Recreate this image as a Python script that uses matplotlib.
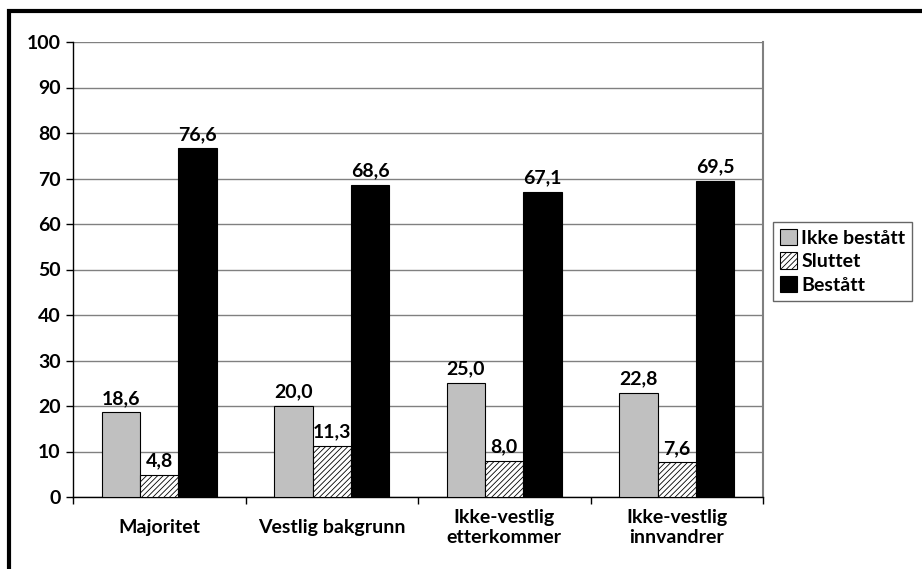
"""Grouped bar chart: Ikke bestått / Sluttet / Bestått by background."""

import matplotlib
matplotlib.use("Agg")
import matplotlib.pyplot as plt
import numpy as np
from matplotlib.patches import Patch, Rectangle

plt.rcParams["font.family"] = ["Lato", "DejaVu Sans"]
plt.rcParams["font.weight"] = "bold"
plt.rcParams["hatch.linewidth"] = 0.6

CATEGORIES = ["Majoritet", "Vestlig bakgrunn", "Ikke-vestlig\netterkommer",
              "Ikke-vestlig\ninnvandrer"]
SERIES = ["Ikke bestått", "Sluttet", "Bestått"]
IKKE_BESTATT = [18.6, 20.0, 25.0, 22.8]
SLUTTET = [4.8, 11.3, 8.0, 7.6]
BESTATT = [76.6, 68.6, 67.1, 69.5]
Y_TICKS = list(range(0, 101, 10))

FS = 14
STYLES = [
    dict(facecolor="#C0C0C0", edgecolor="black", hatch=None),
    dict(facecolor="white", edgecolor="black", hatch="//////"),
    dict(facecolor="black", edgecolor="black", hatch=None),
]


def fmt(v):
    return f"{v:.1f}".replace(".", ",")


def main():
    fig = plt.figure(figsize=(9.22, 5.69), dpi=100)
    W, H = 922, 569

    # outer frame (cut off at right/bottom like the reference)
    fig.patches.append(Rectangle((9 / W, -0.05), 1.2, (H - 11) / H + 0.05,
                                 transform=fig.transFigure, fill=False,
                                 edgecolor="black", linewidth=3))

    ax = fig.add_axes([73 / W, (H - 497) / H, 690 / W, 455 / H])
    ax.set_xlim(0, len(CATEGORIES))
    ax.set_ylim(0, 100)

    x = np.arange(len(CATEGORIES)) + 0.5
    bw = 1 / 4.5
    for i, (vals, st) in enumerate(zip([IKKE_BESTATT, SLUTTET, BESTATT], STYLES)):
        xs = x + (i - 1) * bw
        ax.bar(xs, vals, width=bw, facecolor=st["facecolor"],
               edgecolor=st["edgecolor"], hatch=st["hatch"], linewidth=0.8,
               zorder=3)
        for xi, v in zip(xs, vals):
            ax.annotate(fmt(v), (xi, v), xytext=(0, 4),
                        textcoords="offset points", ha="center", va="bottom",
                        fontsize=FS, fontweight="bold", zorder=4)

    ax.set_yticks(Y_TICKS)
    ax.set_yticklabels([str(t) for t in Y_TICKS], fontsize=FS)
    ax.yaxis.grid(True, color="#808080", linewidth=1.0, zorder=0)
    ax.tick_params(axis="y", length=5, width=1, pad=4)

    ax.set_xticks(np.arange(len(CATEGORIES) + 1))
    ax.set_xticklabels([])
    ax.tick_params(axis="x", which="major", length=5, width=1)
    ax.set_xticks(x, minor=True)
    ax.set_xticklabels(CATEGORIES, minor=True, fontsize=FS)
    ax.tick_params(axis="x", which="minor", length=0, pad=22)
    for t in ax.get_xticklabels(minor=True):
        t.set_verticalalignment("center")
        t.set_linespacing(1.2)

    ax.spines["top"].set_visible(False)
    ax.spines["right"].set_color("#808080")
    ax.spines["right"].set_linewidth(1.5)
    ax.spines["left"].set_linewidth(1)
    ax.spines["bottom"].set_linewidth(1)

    handles = [Patch(facecolor=st["facecolor"], edgecolor="black",
                     hatch=st["hatch"], linewidth=0.8) for st in STYLES]
    leg = fig.legend(handles, SERIES, loc="upper left",
                     bbox_to_anchor=(773 / W, 1 - 222 / H),
                     frameon=True, fancybox=False, fontsize=FS,
                     handlelength=0.9, handleheight=0.9, handletextpad=0.2,
                     labelspacing=0.3, borderpad=0.35, borderaxespad=0)
    leg.get_frame().set_edgecolor("#404040")
    leg.get_frame().set_linewidth(1)

    fig.savefig("out.png", dpi=100)
    plt.close(fig)


if __name__ == "__main__":
    main()
